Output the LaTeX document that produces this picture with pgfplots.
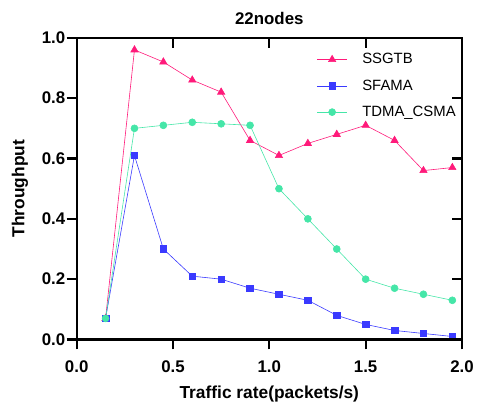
\documentclass[border=0pt]{standalone}
\usepackage{pgfplots}
\pgfplotsset{compat=1.18}
\usepackage{fontspec}
\setmainfont{Liberation Sans}
\definecolor{cA}{HTML}{FF1A7A}
\definecolor{cB}{HTML}{3A3AFF}
\definecolor{cC}{HTML}{45E6A8}
\pgfplotsset{
  common/.style={
    scale only axis,
    width=387bp, height=303bp,
    xmin=0, xmax=2, ymin=0, ymax=1,
    xtick={0,0.5,1,1.5,2}, ytick={0,0.2,0.4,0.6,0.8,1},
    axis line style={line width=2.2pt},
    every major tick/.append style={color=black, draw=black, line width=2.2pt},
    major tick length=10bp,
  }
}
\begin{document}
\begin{tikzpicture}
\begin{axis}[
  common,
  name=ax,
  xticklabels={0.0,0.5,1.0,1.5,2.0},
  yticklabels={0.0,0.2,0.4,0.6,0.8,1.0},
  xtick pos=lower, ytick pos=left,
  tick align=outside,
  ticklabel style={font=\fontsize{17}{19}\selectfont\bfseries},
  xticklabel style={yshift=-8bp},
  yticklabel style={xshift=2bp},
  xlabel={Traffic rate(packets/s)},
  ylabel={Throughput},
  label style={font=\fontsize{17.5}{20}\selectfont\bfseries},
  title={22nodes},
  title style={font=\fontsize{17}{19}\selectfont\bfseries, yshift=4bp},
  xlabel style={yshift=-6bp},
  ylabel style={yshift=7bp},
  legend style={draw=none, fill=none, inner sep=0pt, at={(0.623,0.955)}, anchor=north west,
    font=\fontsize{15}{17}\selectfont, row sep=10.5bp, column sep=13bp},
  legend image code/.code={\draw[mark repeat=2,mark phase=2] plot coordinates {(0bp,0bp)(15bp,0bp)(30bp,0bp)};},
  legend cell align=left,
  clip=false,
]
\addplot[cA, line width=0.6pt, mark=triangle*, mark size=4.2bp] coordinates {
(0.15,0.07)(0.30,0.96)(0.45,0.92)(0.60,0.86)(0.75,0.82)(0.90,0.66)(1.05,0.61)(1.20,0.65)(1.35,0.68)(1.50,0.71)(1.65,0.66)(1.80,0.56)(1.95,0.57)};
\addlegendentry{SSGTB}
\addplot[cB, line width=0.6pt, mark=square*, mark size=3.3bp] coordinates {
(0.15,0.07)(0.30,0.61)(0.45,0.30)(0.60,0.21)(0.75,0.20)(0.90,0.17)(1.05,0.15)(1.20,0.13)(1.35,0.08)(1.50,0.05)(1.65,0.03)(1.80,0.02)(1.95,0.01)};
\addlegendentry{SFAMA}
\addplot[cC, line width=0.6pt, mark=*, mark size=3.5bp] coordinates {
(0.15,0.07)(0.30,0.70)(0.45,0.71)(0.60,0.72)(0.75,0.715)(0.90,0.71)(1.05,0.50)(1.20,0.40)(1.35,0.30)(1.50,0.20)(1.65,0.17)(1.80,0.15)(1.95,0.13)};
\addlegendentry{TDMA\_CSMA}
\end{axis}
\begin{axis}[
  common,
  at={(ax.south west)}, anchor=south west,
  xtick pos=upper, ytick pos=right,
  tick align=inside,
  xticklabels={}, yticklabels={},
]
\end{axis}
\path[use as bounding box] ([shift={(-77bp,-67bp)}]ax.south west) rectangle ([shift={(13bp,38bp)}]ax.north east);
\end{tikzpicture}
\end{document}
